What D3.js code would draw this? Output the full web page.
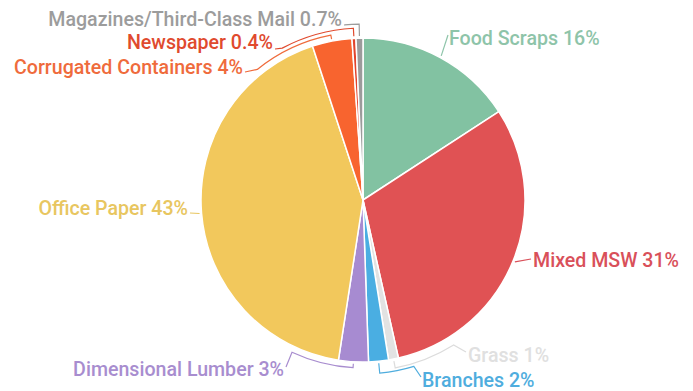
<!DOCTYPE html>
<html>
<head>
<meta charset="utf-8">
<script src="https://cdn.jsdelivr.net/npm/d3@7"></script>
<style>
  html, body { margin: 0; padding: 0; background: #ffffff; }
  svg { display: block; }
  text { font-family: Roboto, "Noto Sans", sans-serif; font-weight: 500; font-size: 19.6px; }
</style>
</head>
<body>
<svg id="chart" width="693" height="391"></svg>
<script>
// Waste composition shares (percent), clockwise from 12 o'clock
const categories = [
  "Food Scraps", "Mixed MSW", "Grass", "Branches", "Dimensional Lumber",
  "Office Paper", "Corrugated Containers", "Newspaper", "Magazines/Third-Class Mail"
];
const shares = [16, 31, 1, 2, 3, 43, 4, 0.4, 0.7];

// Slice fills and label colours
const sliceColors = ["#82c2a2", "#e05254", "#e2e2e2", "#4aaee2", "#a78bd1", "#f2c85c", "#f8642f", "#e2442c", "#9b9b9b"];
const textColors  = ["#8ec4a9", "#d9505a", "#e0e0e0", "#4fadde", "#a88dcf", "#e8c660", "#ef6b3c", "#e04a2e", "#9c9c9c"];

// Callout layout: leader ring offset beyond the rim, angle (deg) where the leader
// leaves the ring, leader end point and text placement.
const callouts = {
  "Food Scraps":                {ring: 2,  turn: null, end: [448, 35],  text: [449, 45],  anchor: "start"},
  "Mixed MSW":                  {ring: 2,  turn: null, end: [531, 259], text: [533, 267], anchor: "start"},
  "Grass":                      {ring: 9,  turn: 148,  end: [466, 352], text: [468, 362], anchor: "start"},
  "Branches":                   {ring: 12, turn: 163,  end: [421, 377], text: [422, 387], anchor: "start"},
  "Dimensional Lumber":         {ring: 6,  turn: 205,  end: [286, 367], text: [284, 376], anchor: "end"},
  "Office Paper":               {ring: 2,  turn: null, end: [190, 213], text: [188, 215], anchor: "end"},
  "Corrugated Containers":      {ring: 6,  turn: 321,  end: [245, 72],  text: [243, 74],  anchor: "end"},
  "Newspaper":                  {ring: 10, turn: 332,  end: [275, 49],  text: [273, 49],  anchor: "end"},
  "Magazines/Third-Class Mail": {ring: 14, turn: 354,  end: [344, 25],  text: [342, 26],  anchor: "end"}
};

const cx = 363, cy = 200, radius = 162;
const svg = d3.select("#chart");

const rows = categories.map((name, i) => ({name, share: shares[i], fill: sliceColors[i], ink: textColors[i]}));

const pie = d3.pie().sort(null).value(d => d.share);
const arcs = pie(rows);
const arc = d3.arc().innerRadius(0).outerRadius(radius);

const g = svg.append("g").attr("transform", `translate(${cx},${cy})`);

g.selectAll("path.slice")
  .data(arcs)
  .join("path")
  .attr("class", "slice")
  .attr("d", arc)
  .attr("fill", d => d.data.fill)
  .attr("stroke", "#ffffff")
  .attr("stroke-width", 1.5)
  .attr("stroke-linejoin", "round");

// Point on a circle of radius r at pie angle a (0 = 12 o'clock, clockwise)
const polar = (a, r) => [r * Math.sin(a), -r * Math.cos(a)];

function leaderPath(d) {
  const c = callouts[d.data.name];
  const mid = (d.startAngle + d.endAngle) / 2;
  const p = d3.path();
  const s = polar(mid, radius + 2);
  p.moveTo(s[0], s[1]);
  if (c.turn !== null) {
    const rr = radius + c.ring;
    const t = polar(mid, rr);
    p.lineTo(t[0], t[1]);
    const turn = c.turn * Math.PI / 180;
    p.arc(0, 0, rr, mid - Math.PI / 2, turn - Math.PI / 2, turn < mid);
  }
  p.lineTo(c.end[0] - cx, c.end[1] - cy);
  return p.toString();
}

g.selectAll("path.leader")
  .data(arcs)
  .join("path")
  .attr("class", "leader")
  .attr("d", leaderPath)
  .attr("fill", "none")
  .attr("stroke", d => d.data.name === "Grass" ? "#dcdcdc" : d.data.ink)
  .attr("stroke-width", 1.2);

svg.selectAll("text.label")
  .data(arcs)
  .join("text")
  .attr("class", "label")
  .attr("x", d => callouts[d.data.name].text[0])
  .attr("y", d => callouts[d.data.name].text[1])
  .attr("text-anchor", d => callouts[d.data.name].anchor)
  .attr("fill", d => d.data.ink)
  .text(d => `${d.data.name} ${d.data.share}%`);
</script>
</body>
</html>
